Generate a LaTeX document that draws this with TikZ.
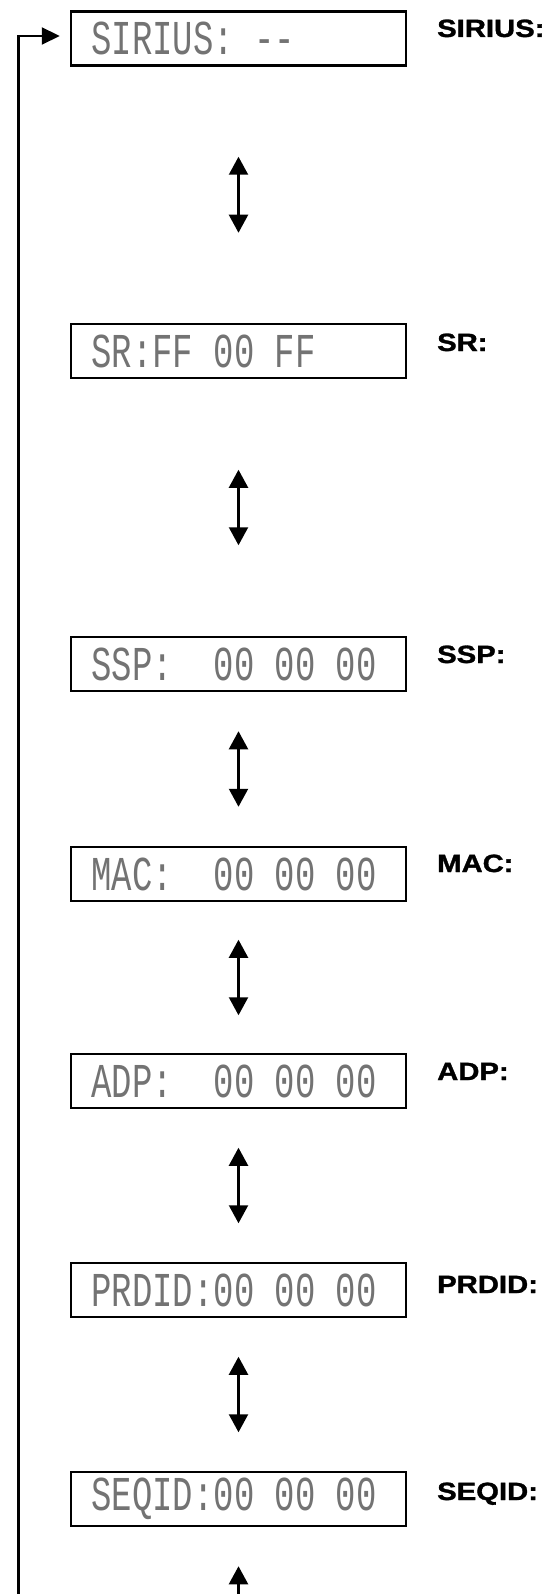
\documentclass[tikz,border=0pt]{standalone}
\usepackage{fontspec}
\usepackage{graphicx}
\usetikzlibrary{arrows.meta}
\newfontfamily\lcdfont{Liberation Mono}
\newfontfamily\labfont{Liberation Sans Bold}[FakeBold=1.2]
\newcommand{\lcdtxt}[1]{\makebox[294pt][l]{\scalebox{0.97}[1.39]{#1}}}
\newcommand{\labtxt}[1]{\scalebox{1.17}[1]{#1}}
\tikzset{
  lcd/.style={draw, line width=2.5pt, minimum height=54pt, minimum width=335pt,
    inner xsep=20.5pt, inner ysep=0pt,
    font=\lcdfont\fontsize{35}{35}\selectfont, text=black!55},
  lab/.style={anchor=base west, inner sep=0pt,
    font=\labfont\fontsize{25}{25}\selectfont},
  dbl/.style={line width=2.2pt, {Triangle[width=19pt,length=18pt]}-{Triangle[width=19pt,length=18pt]}},
  sgl/.style={line width=2.2pt, -{Triangle[width=19pt,length=18pt]}}
}
\begin{document}
\begin{tikzpicture}[x=1pt,y=-1pt]
\useasboundingbox (0,0) rectangle (546,1594);
% boxes
\node[lcd] (b1) at (238.5,38.5) {\lcdtxt{SIRIUS:~--}};
\node[lcd] (b2) at (238.5,351) {\lcdtxt{SR:FF~00~FF}};
\node[lcd] (b3) at (238.5,664) {\lcdtxt{SSP:~~00~00~00}};
\node[lcd] (b4) at (238.5,874) {\lcdtxt{MAC:~~00~00~00}};
\node[lcd] (b5) at (238.5,1081) {\lcdtxt{ADP:~~00~00~00}};
\node[lcd] (b6) at (238.5,1290) {\lcdtxt{PRDID:00~00~00}};
\node[lcd] (b7) at (238.5,1499) {\lcdtxt{SEQID:00~00~00}};
% labels
\node[lab] (l1) at (437,37) {\labtxt{SIRIUS:}};
\node[lab] (l2) at (437,351) {\labtxt{SR:}};
\node[lab] (l3) at (437,663) {\labtxt{SSP:}};
\node[lab] (l4) at (437,872) {\labtxt{MAC:}};
\node[lab] (l5) at (437,1080) {\labtxt{ADP:}};
\node[lab] (l6) at (437,1293) {\labtxt{PRDID:}};
\node[lab] (l7) at (437,1500) {\labtxt{SEQID:}};
% double arrows
\draw[dbl, shorten <=90pt, shorten >=90pt] (b1.south) -- (b2.north);
\draw[dbl, shorten <=90.5pt, shorten >=90.5pt] (b2.south) -- (b3.north);
\draw[dbl, shorten <=39pt, shorten >=39pt] (b3.south) -- (b4.north);
\draw[dbl, shorten <=37.5pt, shorten >=37.5pt] (b4.south) -- (b5.north);
\draw[dbl, shorten <=38.5pt, shorten >=38.5pt] (b5.south) -- (b6.north);
\draw[dbl, shorten <=38.5pt, shorten >=38.5pt] (b6.south) -- (b7.north);
% bottom arrow
\coordinate (e) at (238.5,1594);
\draw[sgl, shorten >=39pt] (e) -- (b7.south);
% return line
\coordinate (r) at (18.5,1594);
\draw[line width=2.2pt, -{Triangle[width=17pt,length=18pt]}, shorten >=10pt] (r) |- ([yshift=2.5pt]b1.west);
\end{tikzpicture}
\end{document}
